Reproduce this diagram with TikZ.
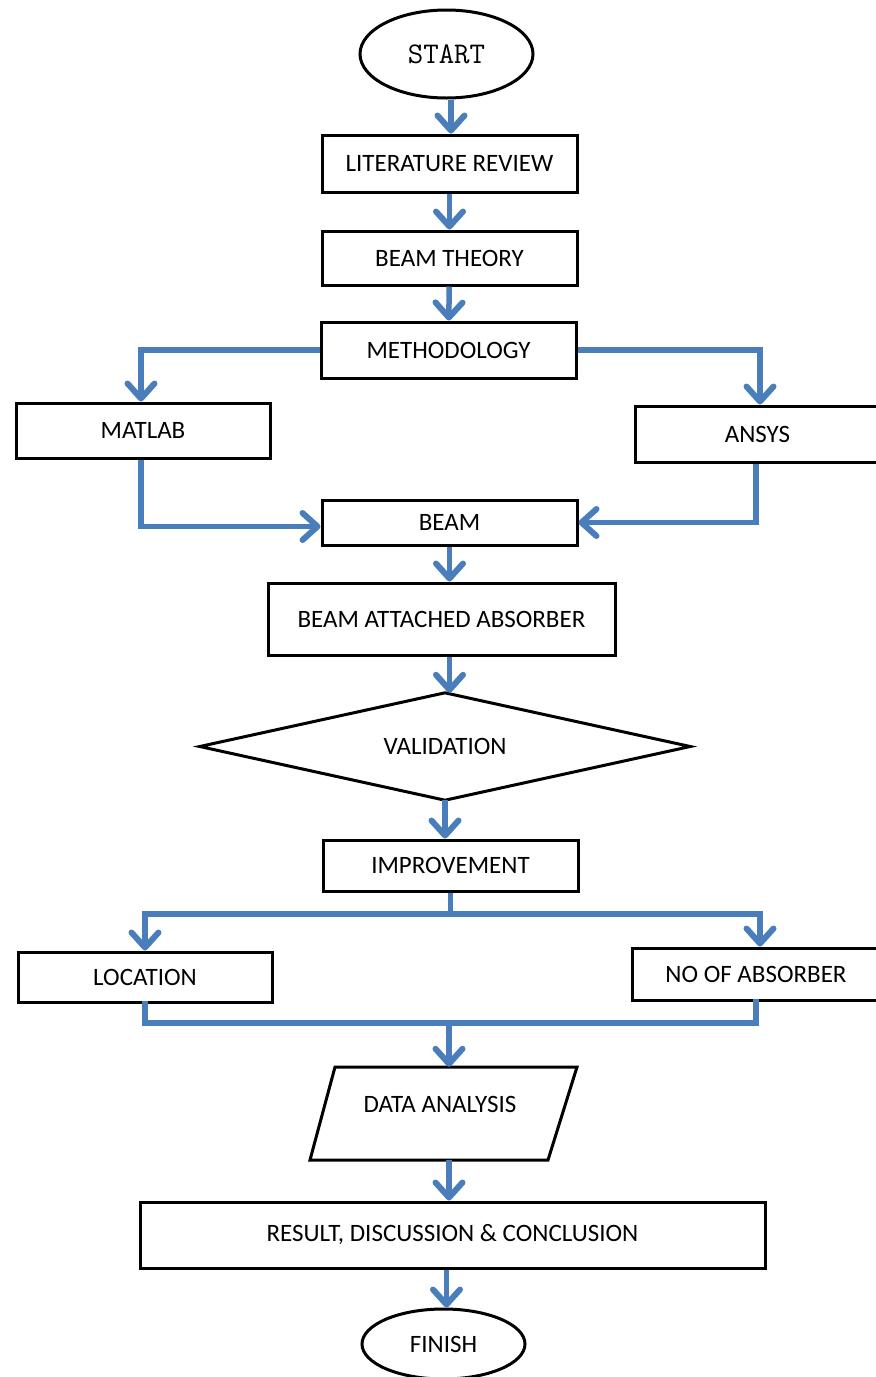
\documentclass[tikz,border=0pt]{standalone}
\usepackage{fontspec}
\newfontfamily\boxfnt{Carlito}
\usetikzlibrary{arrows.meta,shapes.geometric}
\definecolor{flowblue}{RGB}{74,126,187}
\tikzset{
  box/.style={draw=black, line width=3pt, rectangle, inner sep=0pt, font=\boxfnt\fontsize{25}{28}\selectfont},
  term/.style={draw=black, line width=3pt, ellipse, inner sep=0pt},
  conn/.style={draw=flowblue, line width=5.5pt, -{Straight Barb[length=15pt, width=27pt, line width=6pt, round]}},
  plain/.style={draw=flowblue, line width=5.5pt},
}
\begin{document}
\begin{tikzpicture}[x=1pt, y=-1pt]
\useasboundingbox (0,0) rectangle (876,1377);
% nodes
\node[term, minimum width=173pt, minimum height=88pt, font=\ttfamily\fontsize{30}{30}\selectfont] (start) at (446.5,54) {START};
\node[box, minimum width=255pt, minimum height=57pt] (lit) at (449.5,163.5) {LITERATURE REVIEW};
\node[box, minimum width=255pt, minimum height=54pt] (theory) at (449.5,258) {BEAM THEORY};
\node[box, minimum width=255pt, minimum height=56pt] (meth) at (448.5,350) {METHODOLOGY};
\node[box, minimum width=254pt, minimum height=55pt] (matlab) at (143,430.5) {MATLAB};
\node[box, minimum width=245pt, minimum height=56pt, text width=245pt, align=center] (ansys) at (757.5,434) {ANSYS};
\node[box, minimum width=255pt, minimum height=45pt] (beam) at (449.5,522.5) {BEAM};
\node[box, minimum width=347pt, minimum height=72pt] (baa) at (441.5,619) {BEAM ATTACHED ABSORBER};
% validation diamond
\node[minimum width=490pt, minimum height=107pt, inner sep=0pt, font=\boxfnt\fontsize{25}{28}\selectfont] (valid) at (445,746.5) {VALIDATION};
\draw[line width=3pt, line join=miter] (valid.north) -- (valid.east) -- (valid.south) -- (valid.west) -- cycle;
\node[box, minimum width=255pt, minimum height=51pt] (improve) at (450.5,865.5) {IMPROVEMENT};
\node[box, minimum width=254pt, minimum height=50pt] (location) at (145,977) {LOCATION};
\node[box, minimum width=248pt, minimum height=52pt] (noabs) at (756,974) {NO OF ABSORBER};
% data analysis parallelogram
\node[minimum width=240pt, minimum height=93pt, inner sep=0pt] (data) at (443,1113.5) {};
\draw[line width=3pt, line join=miter] (335,1067) -- (577,1067) -- (548,1160) -- (310,1160) -- cycle;
\node[font=\boxfnt\fontsize{25}{28}\selectfont, inner sep=0pt] (datatext) at (440,1104) {DATA ANALYSIS};
\node[box, minimum width=625pt, minimum height=66pt] (result) at (452.5,1235) {RESULT, DISCUSSION \& CONCLUSION};
\node[term, minimum width=163pt, minimum height=70pt, font=\boxfnt\fontsize{25}{28}\selectfont] (finish) at (443.5,1344) {FINISH};
% coordinates
\coordinate (split) at (450.5,914);
\coordinate (merge) at (449,1023);
% connectors
\draw[conn] (start.south -| lit.north) ++(1.5,0) coordinate (s1) -- (s1 |- lit.north);
\draw[conn] (lit) -- (theory);
\draw[conn] (theory) -- (meth);
\draw[conn] (meth.west) -| ([xshift=-2pt]matlab.north);
\draw[conn] (meth.east) -| ([xshift=2.5pt]ansys.north);
\draw[conn] ([xshift=-2pt]matlab.south) |- ([yshift=-4pt]beam.west);
\draw[conn] ([xshift=-1.5pt]ansys.south) |- (beam.east);
\draw[conn] (beam) -- (beam |- baa.north);
\draw[conn] (beam |- baa.south) -- (beam |- valid.north);
\draw[conn] (valid.south) -- (valid.south |- improve.north);
\draw[plain] (improve.south) -- (split);
\draw[conn] (split) -| (location.north);
\draw[conn] (split) -| ([xshift=4pt]noabs.north);
\draw[plain, line cap=rect] (location.south) |- (merge) -| (noabs.south);
\draw[conn] (merge) -- (merge |- data.north);
\draw[conn] (merge |- data.south) -- (merge |- result.north);
\draw[conn] ([xshift=-6pt]result.south) -- ([xshift=-6pt]result.south |- finish.north);
\end{tikzpicture}
\end{document}
